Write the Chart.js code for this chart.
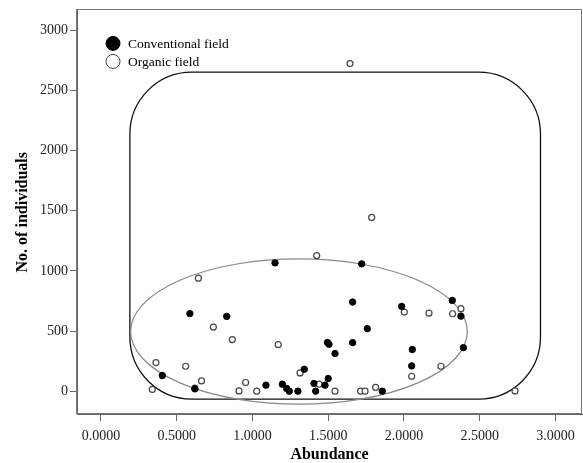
<!DOCTYPE html>
<html>
<head>
<meta charset="utf-8">
<script src="https://cdn.jsdelivr.net/npm/chart.js@4/dist/chart.umd.min.js"></script>
<style>
  html, body { margin: 0; padding: 0; background: #fff; }
  canvas { display: block; }
</style>
</head>
<body>
<canvas id="chart" width="583" height="463"></canvas>
<script>
// abundance (x) and number of individuals (y) for each sample
const conventionalX = [0.405, 0.587, 0.620, 0.830, 1.089, 1.149, 1.197, 1.226, 1.243, 1.300,
  1.342, 1.406, 1.417, 1.479, 1.500, 1.495, 1.505, 1.545, 1.661, 1.661,
  1.721, 1.758, 1.857, 1.985, 2.051, 2.055, 2.319, 2.376, 2.392];
const conventionalY = [130, 645, 19, 622, 50, 1067, 58, 22, 0, 0,
  182, 64, 0, 50, 105, 405, 390, 313, 741, 404,
  1059, 520, 0, 705, 210, 346, 755, 624, 362];

const organicX = [0.339, 0.363, 0.559, 0.620, 0.643, 0.664, 0.742, 0.867, 0.911, 0.955,
  1.028, 1.170, 1.314, 1.424, 1.440, 1.545, 1.644, 1.714, 1.743, 1.787,
  1.813, 2.002, 2.051, 2.165, 2.244, 2.321, 2.376, 2.733];
const organicY = [14, 238, 207, 25, 940, 85, 533, 429, 2, 72,
  0, 387, 152, 1128, 58, 0, 2725, 0, 0, 1445,
  31, 658, 124, 649, 207, 644, 686, 2];

const seriesNames = ["Conventional field", "Organic field"];
const xTicks = [0, 0.5, 1, 1.5, 2, 2.5, 3];
const yTicks = [0, 500, 1000, 1500, 2000, 2500, 3000];

// outline around all samples and the ellipse around the bulk of them (data units)
const hull = { left: 0.191, right: 2.901, top: 2653, bottom: -66 };
const bulk = { cx: 1.307, cy: 496, rx: 1.111, ry: 604 };

const toPoints = (xs, ys) => xs.map((v, i) => ({ x: v, y: ys[i] }));

const serif = "'Liberation Serif', 'Times New Roman', serif";

const overlay = {
  id: "overlay",
  beforeDatasetsDraw(chart) {
    const { ctx, scales: { x, y } } = chart;
    ctx.save();
    const l = x.getPixelForValue(hull.left);
    const r = x.getPixelForValue(hull.right);
    const t = y.getPixelForValue(hull.top);
    const b = y.getPixelForValue(hull.bottom);
    ctx.beginPath();
    ctx.roundRect(l, t, r - l, b - t, 62);
    ctx.strokeStyle = "#111";
    ctx.lineWidth = 1.3;
    ctx.stroke();

    const cx = x.getPixelForValue(bulk.cx);
    const cy = y.getPixelForValue(bulk.cy);
    const rx = x.getPixelForValue(bulk.cx + bulk.rx) - cx;
    const ry = cy - y.getPixelForValue(bulk.cy + bulk.ry);
    ctx.beginPath();
    ctx.ellipse(cx, cy, rx, ry, 0, 0, Math.PI * 2);
    ctx.strokeStyle = "#888";
    ctx.lineWidth = 1.2;
    ctx.stroke();
    ctx.restore();
  },
  afterDraw(chart) {
    const { ctx, chartArea: a } = chart;
    ctx.save();
    ctx.strokeStyle = "#777";
    ctx.lineWidth = 1;
    ctx.strokeRect(Math.round(a.left) - 0.5, Math.round(a.top) - 0.5,
      Math.round(a.right - a.left), Math.round(a.bottom - a.top));

    // legend in the upper left corner of the plot
    const lx = a.left + 36, ly = a.top + 33;
    chart.data.datasets.forEach((ds, i) => {
      const yy = ly + i * 18;
      ctx.beginPath();
      ctx.arc(lx, yy, 7, 0, Math.PI * 2);
      ctx.fillStyle = ds.backgroundColor;
      ctx.fill();
      ctx.lineWidth = 1;
      ctx.strokeStyle = ds.borderColor;
      ctx.stroke();
      ctx.fillStyle = "#000";
      ctx.font = "13.5px " + serif;
      ctx.textBaseline = "middle";
      ctx.fillText(ds.label, lx + 15, yy + 1);
    });
    ctx.restore();
  }
};

new Chart(document.getElementById("chart"), {
  type: "scatter",
  data: {
    datasets: [
      {
        label: seriesNames[0],
        data: toPoints(conventionalX, conventionalY),
        backgroundColor: "#000",
        borderColor: "#000",
        borderWidth: 1,
        pointRadius: 3.2
      },
      {
        label: seriesNames[1],
        data: toPoints(organicX, organicY),
        backgroundColor: "#fff",
        borderColor: "#444",
        borderWidth: 1.2,
        pointRadius: 3
      }
    ]
  },
  options: {
    responsive: false,
    animation: false,
    layout: { autoPadding: false, padding: { top: 7.6, right: 1, bottom: 0, left: 0 } },
    plugins: {
      legend: { display: false },
      tooltip: { enabled: false }
    },
    scales: {
      x: {
        type: "linear",
        min: -0.158,
        max: 3.175,
        afterBuildTicks: (scale) => { scale.ticks = xTicks.map((v) => ({ value: v })); },
        afterFit: (scale) => { scale.height = 49; },
        grid: { drawOnChartArea: false, tickLength: 7, color: "#666" },
        border: { color: "#666" },
        ticks: {
          color: "#222",
          padding: 7,
          font: { family: serif, size: 14 },
          callback: (v) => Number(v).toFixed(4)
        },
        title: {
          display: true,
          text: "Abundance",
          color: "#000",
          padding: { top: 0, bottom: -1 },
          font: { family: serif, size: 16, weight: "bold" }
        }
      },
      y: {
        type: "linear",
        min: -190,
        max: 3167,
        afterBuildTicks: (scale) => { scale.ticks = yTicks.map((v) => ({ value: v })); },
        afterFit: (scale) => { scale.width = 77; },
        grid: { drawOnChartArea: false, tickLength: 7, color: "#666" },
        border: { color: "#666" },
        ticks: {
          color: "#222",
          padding: 2,
          font: { family: serif, size: 14 },
          callback: (v) => String(v)
        },
        title: {
          display: true,
          text: "No. of individuals",
          color: "#000",
          padding: { top: 13, bottom: 0 },
          font: { family: serif, size: 16, weight: "bold" }
        }
      }
    }
  },
  plugins: [overlay]
});
</script>
</body>
</html>
